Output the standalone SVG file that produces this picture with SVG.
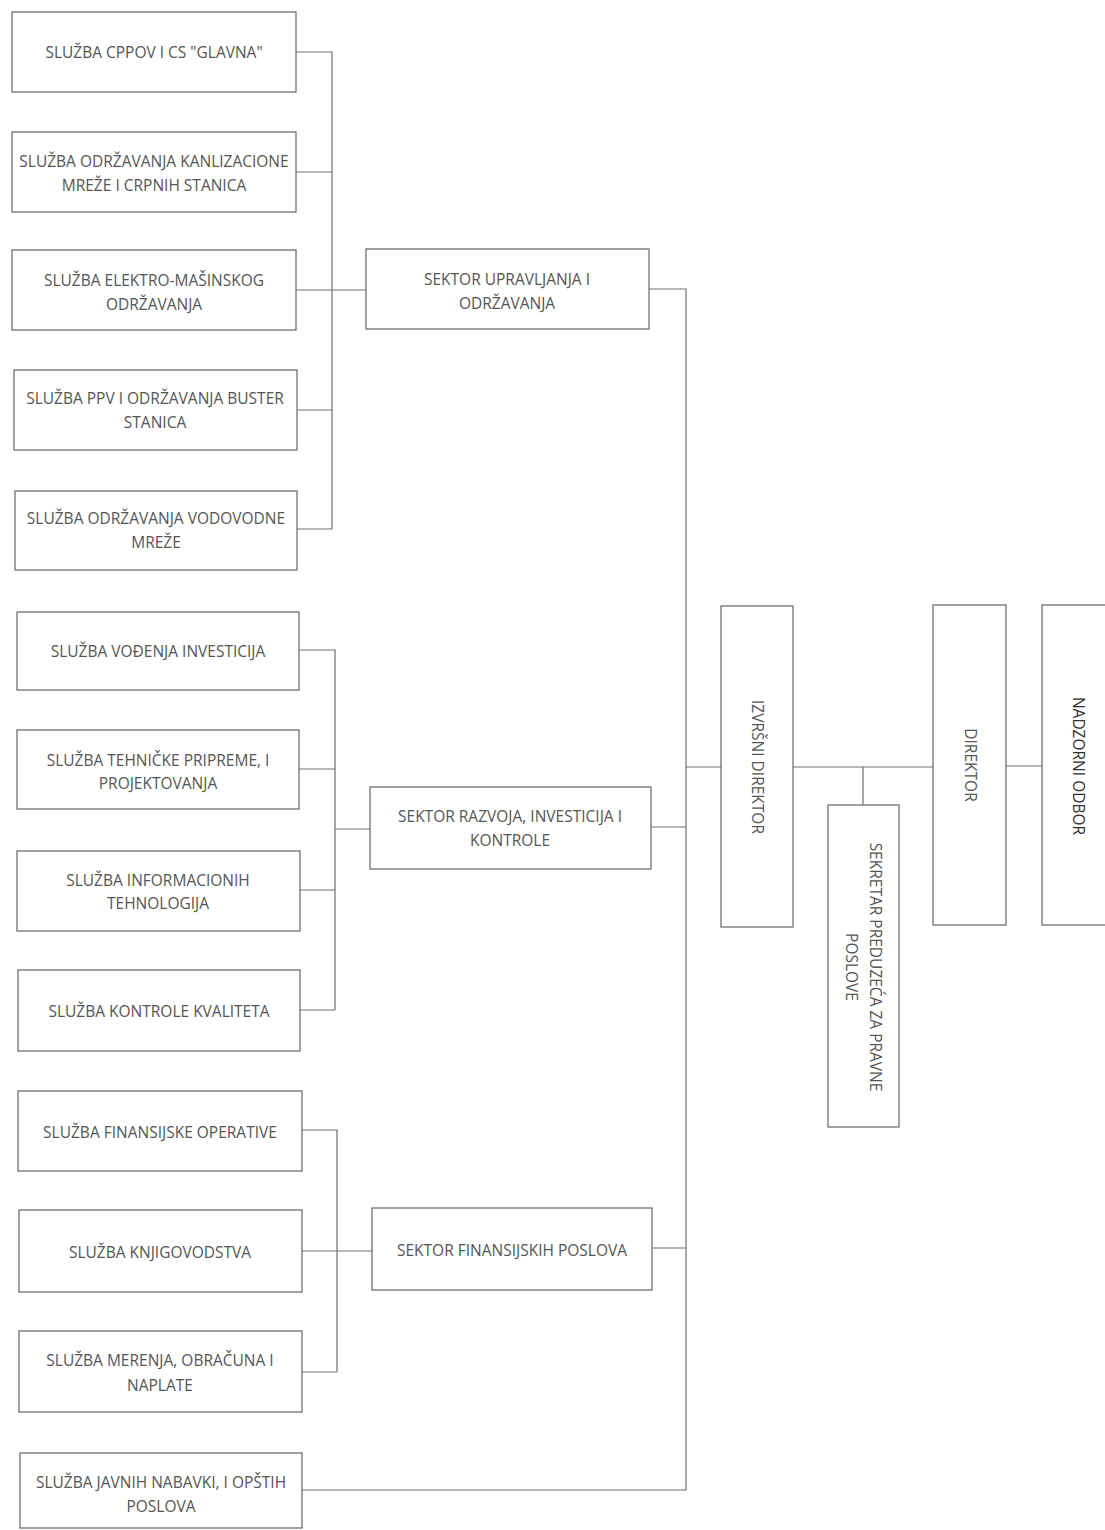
<svg xmlns="http://www.w3.org/2000/svg" width="1105" height="1530" viewBox="0 0 1105 1530">
<style>
.box{fill:#fff;stroke:#707070;stroke-width:1.3}
.t{font-family:"Open Sans","Liberation Sans",sans-serif;font-size:15.5px;fill:#555;text-anchor:middle}
.d{fill:#303030}
.c{fill:none;stroke:#707070;stroke-width:1.2}
</style>
<rect width="1105" height="1530" fill="#fff"/>
<g id="connectors">
<path class="c" d="M296 52H332V529M296 172H332M296 290H366M296 410H332M297 529H332"/>
<path class="c" d="M299 650H335V1010M299 769H335M335 829H370M299 890H335M300 1010H335"/>
<path class="c" d="M302 1130H337V1372M302 1251H372M302 1372H337"/>
<path class="c" d="M649 289H686V1490H302M651 827H686M652 1248H686M686 767H721"/>
<path class="c" d="M793 767H933M863 767V805M1006 766H1042"/>
</g>
<g id="n1"><rect class="box" x="12" y="12" width="284" height="80"/><text class="t" x="154" y="58">SLUŽBA CPPOV I CS "GLAVNA"</text></g>
<g id="n2"><rect class="box" x="12" y="132" width="284" height="80"/><text class="t" x="154" y="167">SLUŽBA ODRŽAVANJA KANLIZACIONE</text><text class="t" x="154" y="191">MREŽE I CRPNIH STANICA</text></g>
<g id="n3"><rect class="box" x="12" y="250" width="284" height="80"/><text class="t" x="154" y="286">SLUŽBA ELEKTRO-MAŠINSKOG</text><text class="t" x="154" y="310">ODRŽAVANJA</text></g>
<g id="n4"><rect class="box" x="14" y="370" width="283" height="80"/><text class="t" x="155" y="404">SLUŽBA PPV I ODRŽAVANJA BUSTER</text><text class="t" x="155" y="428">STANICA</text></g>
<g id="n5"><rect class="box" x="15" y="491" width="282" height="79"/><text class="t" x="156" y="524">SLUŽBA ODRŽAVANJA VODOVODNE</text><text class="t" x="156" y="548">MREŽE</text></g>
<g id="n6"><rect class="box" x="17" y="612" width="282" height="78"/><text class="t" x="158" y="657">SLUŽBA VOĐENJA INVESTICIJA</text></g>
<g id="n7"><rect class="box" x="17" y="730" width="282" height="79"/><text class="t" x="158" y="766">SLUŽBA TEHNIČKE PRIPREME, I</text><text class="t" x="158" y="789">PROJEKTOVANJA</text></g>
<g id="n8"><rect class="box" x="17" y="851" width="283" height="80"/><text class="t" x="158" y="886">SLUŽBA INFORMACIONIH</text><text class="t" x="158" y="909">TEHNOLOGIJA</text></g>
<g id="n9"><rect class="box" x="18" y="970" width="282" height="81"/><text class="t" x="159" y="1017">SLUŽBA KONTROLE KVALITETA</text></g>
<g id="n10"><rect class="box" x="18" y="1091" width="284" height="80"/><text class="t" x="160" y="1138">SLUŽBA FINANSIJSKE OPERATIVE</text></g>
<g id="n11"><rect class="box" x="19" y="1210" width="283" height="82"/><text class="t" x="160" y="1258">SLUŽBA KNJIGOVODSTVA</text></g>
<g id="n12"><rect class="box" x="19" y="1331" width="283" height="81"/><text class="t" x="160" y="1366">SLUŽBA MERENJA, OBRAČUNA I</text><text class="t" x="160" y="1391">NAPLATE</text></g>
<g id="n13"><rect class="box" x="20" y="1453" width="282" height="75"/><text class="t" x="161" y="1488">SLUŽBA JAVNIH NABAVKI, I OPŠTIH</text><text class="t" x="161" y="1512">POSLOVA</text></g>
<g id="s1"><rect class="box" x="366" y="249" width="283" height="80"/><text class="t" x="507" y="285">SEKTOR UPRAVLJANJA I</text><text class="t" x="507" y="309">ODRŽAVANJA</text></g>
<g id="s2"><rect class="box" x="370" y="787" width="281" height="82"/><text class="t" x="510" y="822">SEKTOR RAZVOJA, INVESTICIJA I</text><text class="t" x="510" y="846">KONTROLE</text></g>
<g id="s3"><rect class="box" x="372" y="1208" width="280" height="82"/><text class="t" x="512" y="1256">SEKTOR FINANSIJSKIH POSLOVA</text></g>
<g id="izvrsni"><rect class="box" x="721" y="606" width="72" height="321"/><text class="t" transform="translate(757,767) rotate(90)" y="5.5">IZVRŠNI DIREKTOR</text></g>
<g id="sekretar"><rect class="box" x="828" y="805" width="71" height="322"/><text class="t" transform="translate(863,967) rotate(90)"><tspan x="0" y="-6.5">SEKRETAR PREDUZEĆA ZA PRAVNE</tspan><tspan x="0" y="17">POSLOVE</tspan></text></g>
<g id="direktor"><rect class="box" x="933" y="605" width="73" height="320"/><text class="t" transform="translate(970,765) rotate(90)" y="5.5">DIREKTOR</text></g>
<g id="nadzorni"><rect class="box" x="1042" y="605" width="80" height="320"/><text class="t d" transform="translate(1078,766) rotate(90)" y="5.5">NADZORNI ODBOR</text></g>
</svg>
